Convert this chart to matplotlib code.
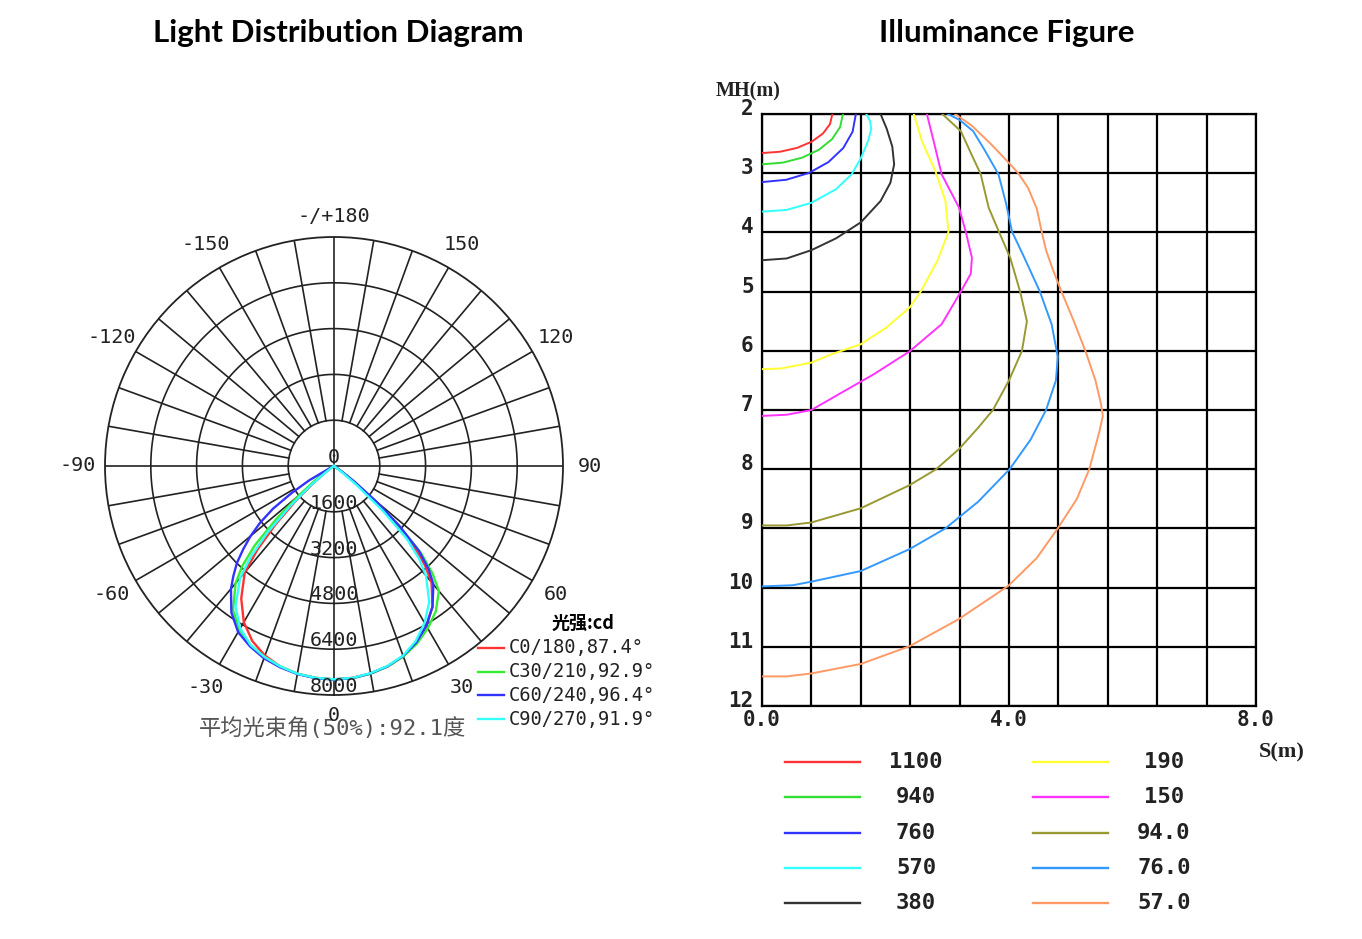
import numpy as np
import matplotlib.pyplot as plt
from matplotlib import transforms

plt.rcParams['font.family'] = ['DejaVu Sans Mono', 'Noto Sans CJK SC']
plt.rcParams['axes.unicode_minus'] = False

# ---- light distribution (cd) ----
gamma = [-90, -70, -65, -60, -57.5, -55, -52.5, -50, -47.5, -45, -42.5, -40, -35, -30, -25, -20,
         -15, -10, -5, 0, 5, 10, 15, 20, 25, 30, 35, 40, 42.5, 45, 47.5, 50, 52.5, 55, 57.5,
         60, 65, 70, 90]
c0_180 = [0, 0, 0, 0, 50, 200, 500, 1000, 1850, 2900, 3950, 4850, 5650, 6300, 6750, 7050,
          7250, 7370, 7430, 7450, 7430, 7360, 7250, 7080, 6800, 6450, 6000, 5300, 4700, 3900,
          2700, 1500, 650, 200, 30, 0, 0, 0, 0]
c30_210 = [0, 0, 0, 0, 120, 400, 900, 1600, 2700, 3900, 4750, 5350, 6150, 6600, 6900, 7100,
           7250, 7370, 7430, 7460, 7440, 7370, 7250, 7080, 6850, 6550, 6200, 5700, 5100, 4300,
           3000, 1700, 700, 200, 40, 0, 0, 0, 0]
c60_240 = [0, 0, 100, 1000, 1750, 2600, 3250, 3800, 4300, 4800, 5200, 5600, 6250, 6700, 6950,
           7150, 7280, 7380, 7440, 7460, 7440, 7360, 7240, 7060, 6800, 6450, 6000, 5400, 4900,
           4200, 3100, 1900, 900, 300, 60, 0, 0, 0, 0]
c90_270 = [0, 0, 0, 0, 20, 100, 400, 1100, 2100, 3300, 4300, 5100, 6000, 6550, 6900, 7100,
           7250, 7370, 7430, 7450, 7430, 7350, 7230, 7050, 6750, 6330, 5800, 5000, 4400, 3600,
           2300, 1000, 300, 50, 0, 0, 0, 0, 0]
c_names = ['C0/180,87.4°', 'C30/210,92.9°', 'C60/240,96.4°', 'C90/270,91.9°']
c_colors = ['#ff3333', '#33ee33', '#3333ff', '#33ffff']
r_ticks = [1600, 3200, 4800, 6400, 8000]
ang_labels = [0, 30, 60, 90, 120, 150, 180, -150, -120, -90, -60, -30]

# ---- illuminance iso-lines: S (m) and MH (m) ----
iso_1100_s = [0, 0.295, 0.57, 0.806, 0.987, 1.101, 1.14]
iso_1100_h = [2.66, 2.637, 2.572, 2.467, 2.33, 2.171, 2.0]
iso_940_s = [0, 0.339, 0.655, 0.926, 1.134, 1.265, 1.31]
iso_940_h = [2.85, 2.821, 2.736, 2.601, 2.425, 2.22, 2.0]
iso_760_s = [0, 0.393, 0.76, 1.075, 1.316, 1.468, 1.52]
iso_760_h = [3.15, 3.111, 2.996, 2.813, 2.575, 2.298, 2.0]
iso_570_s = [0, 0.4, 0.8, 1.2, 1.45, 1.6, 1.72, 1.77, 1.75, 1.69]
iso_570_h = [3.65, 3.62, 3.5, 3.27, 3.02, 2.75, 2.45, 2.25, 2.12, 2.0]
iso_380_s = [0, 0.4, 0.8, 1.2, 1.6, 1.92, 2.08, 2.14, 2.11, 2.02, 1.92]
iso_380_h = [4.47, 4.44, 4.3, 4.1, 3.83, 3.47, 3.16, 2.85, 2.55, 2.25, 2.0]
iso_190_s = [0, 0.3, 0.8, 1.12, 1.6, 2.01, 2.39, 2.57, 2.84, 3.02, 2.97, 2.81, 2.59, 2.46]
iso_190_h = [6.31, 6.3, 6.2, 6.06, 5.89, 5.61, 5.27, 5.0, 4.48, 3.99, 3.47, 2.97, 2.46, 2.0]
iso_150_s = [0, 0.4, 0.8, 1.25, 1.82, 2.39, 2.91, 3.22, 3.38, 3.4, 3.3, 3.19, 2.91, 2.78, 2.67]
iso_150_h = [7.1, 7.08, 7.0, 6.73, 6.39, 6.01, 5.55, 5.0, 4.7, 4.43, 3.99, 3.58, 3.02, 2.46, 2.0]
iso_94_s = [0, 0.4, 0.8, 1.6, 2.39, 2.82, 3.19, 3.5, 3.74, 4.0, 4.21, 4.29, 4.18, 4.02, 3.8,
            3.67, 3.54, 3.4, 3.22, 2.92]
iso_94_h = [8.95, 8.95, 8.9, 8.66, 8.27, 8.0, 7.66, 7.3, 7.0, 6.5, 6.0, 5.5, 5.0, 4.43, 3.9,
            3.58, 3.01, 2.7, 2.29, 2.0]
iso_76_s = [0, 0.5, 0.8, 1.6, 2.39, 2.97, 3.5, 4.01, 4.35, 4.6, 4.76, 4.79, 4.69, 4.5, 4.25,
            4.05, 3.95, 3.83, 3.6, 3.42, 3.2, 3.01]
iso_76_h = [9.98, 9.96, 9.9, 9.72, 9.35, 9.0, 8.55, 8.0, 7.5, 7.0, 6.5, 6.1, 5.55, 5.0, 4.43,
            3.99, 3.5, 3.02, 2.6, 2.29, 2.1, 2.0]
iso_57_s = [0, 0.4, 0.8, 1.6, 2.39, 3.19, 3.99, 4.45, 4.79, 5.1, 5.3, 5.46, 5.52, 5.49, 5.4,
            5.24, 5.05, 4.85, 4.7, 4.6, 4.53, 4.45, 4.31, 4.15, 4.02, 3.7, 3.4, 3.13]
iso_57_h = [11.5, 11.5, 11.45, 11.29, 10.99, 10.53, 9.97, 9.5, 9.0, 8.5, 8.0, 7.38, 7.1, 6.9, 6.5,
            6.01, 5.5, 5.0, 4.6, 4.3, 3.99, 3.6, 3.25, 3.0, 2.85, 2.5, 2.2, 2.0]

lux_labels = ['1100', '940', '760', '570', '380', '190', '150', '94.0', '76.0', '57.0']
lux_s = [iso_1100_s, iso_940_s, iso_760_s, iso_570_s, iso_380_s,
         iso_190_s, iso_150_s, iso_94_s, iso_76_s, iso_57_s]
lux_h = [iso_1100_h, iso_940_h, iso_760_h, iso_570_h, iso_380_h,
         iso_190_h, iso_150_h, iso_94_h, iso_76_h, iso_57_h]
lux_colors = ['#ff3333', '#33dd33', '#3333ff', '#33ffff', '#333333',
              '#ffff33', '#ff33ff', '#999933', '#3399ff', '#ff9966']
x_ticks = [0, 4, 8]
x_tick_labels = ['0.0', '4.0', '8.0']
y_ticks = list(range(2, 13))

W, H = 1362, 939
fig = plt.figure(figsize=(W / 100, H / 100), dpi=100)

# overlay in pixel units for titles and legends
ov = fig.add_axes([0, 0, 1, 1], zorder=0)
ov.set_xlim(0, W)
ov.set_ylim(H, 0)
ov.axis('off')

ov.text(338, 33, 'Light Distribution Diagram', ha='center', va='center',
        fontsize=22.5, fontweight='bold', family='Lato')
ov.text(1007, 33, 'Illuminance Figure', ha='center', va='center',
        fontsize=22.5, fontweight='bold', family='Lato')

# ---- polar diagram ----
ax = fig.add_axes([105 / W, 1 - 695 / H, 458 / W, 458 / H], projection='polar', zorder=2)
ax.set_theta_zero_location('S')
ax.set_theta_direction(1)
ax.set_ylim(0, 8000)
ax.grid(False)
ax.set_xticks([])
ax.set_yticks([])
ax.spines['polar'].set_linewidth(1.3)
ax.spines['polar'].set_color('#222222')

th = np.linspace(0, 2 * np.pi, 361)
for r in r_ticks[:-1]:
    ax.plot(th, np.full_like(th, r), color='#222222', lw=1.2, zorder=1)
for a in range(0, 360, 10):
    r0 = 0 if a % 90 == 0 else r_ticks[0]
    ax.plot([np.radians(a)] * 2, [r0, 8000], color='#222222', lw=1.2, zorder=1)

for vals, col in zip([c0_180, c30_210, c60_240, c90_270], c_colors):
    ax.plot(np.radians(gamma), vals, color=col, lw=1.7, zorder=3)

for r in r_ticks:
    ax.text(0, r - 300, str(r), ha='center', va='center', fontsize=14.5, color='#222222', zorder=4)
ax.text(np.pi, 300, '0', ha='center', va='center', fontsize=14.5, color='#222222', zorder=4)

for a in ang_labels:
    lab = '-/+180' if a == 180 else str(a)
    rr = 8700 if a in (0, 180) else 8950
    ax.text(np.radians(a), rr, lab, ha='center', va='center', fontsize=14.5, color='#222222')

# polar legend
ov.text(583, 623, '光强:cd', ha='center', va='center', fontsize=13, fontweight='bold',
        family=['Noto Sans CJK SC', 'DejaVu Sans Mono'])
for i, (name, col) in enumerate(zip(c_names, c_colors)):
    yy = 648 + i * 23.7
    ov.plot([478, 504], [yy, yy], color=col, lw=1.7)
    ov.text(509, yy, name, ha='left', va='center', fontsize=13.5, color='#222222')

ov.text(333, 728, '平均光束角(50%):92.1度', ha='center', va='center', fontsize=16,
        color='#555555', family=['DejaVu Sans Mono', 'Noto Sans CJK SC'])

# ---- illuminance figure ----
ax2 = fig.add_axes([762 / W, 1 - 706 / H, 494 / W, 592 / H], zorder=2)
ax2.set_xlim(0, 8)
ax2.set_ylim(12, 2)
ax2.set_xticks(x_ticks, x_tick_labels)
ax2.set_xticks(np.arange(0.8, 8, 0.8), minor=True)
ax2.set_yticks(y_ticks, [str(v) for v in y_ticks])
ax2.grid(which='both', color='black', lw=1.6)
ax2.tick_params(which='both', length=0, labelsize=15, labelcolor='#222222')
ax2.tick_params(axis='x', pad=3)
ax2.tick_params(axis='y', pad=6)
for sp in ax2.spines.values():
    sp.set_linewidth(1.6)
shift = transforms.ScaledTranslation(0, 7 / 100, fig.dpi_scale_trans)
for lab in ax2.get_yticklabels():
    lab.set_transform(lab.get_transform() + shift)
    lab.set_fontweight('bold')
for lab in ax2.get_xticklabels():
    lab.set_fontweight('bold')

for s, h, col in zip(lux_s, lux_h, lux_colors):
    ax2.plot(s, h, color=col, lw=1.4, zorder=3)

ov.text(748, 91, 'MH(m)', ha='center', va='center', fontsize=14.5, fontweight='bold',
        family='Liberation Serif', color='#222222')
ov.text(1282, 752, 'S(m)', ha='center', va='center', fontsize=16, fontweight='bold',
        family='Liberation Serif', color='#222222')

# illuminance legend
for i, (lab, col) in enumerate(zip(lux_labels, lux_colors)):
    row, colm = i % 5, i // 5
    yy = 762 + row * 35.3
    x0 = 785 + colm * 248
    ov.plot([x0, x0 + 75], [yy, yy], color=col, lw=1.7)
    ov.text(x0 + 131, yy, lab, ha='center', va='center', fontsize=16,
            fontweight='bold', color='#222222')

fig.savefig('out.png', dpi=100)
